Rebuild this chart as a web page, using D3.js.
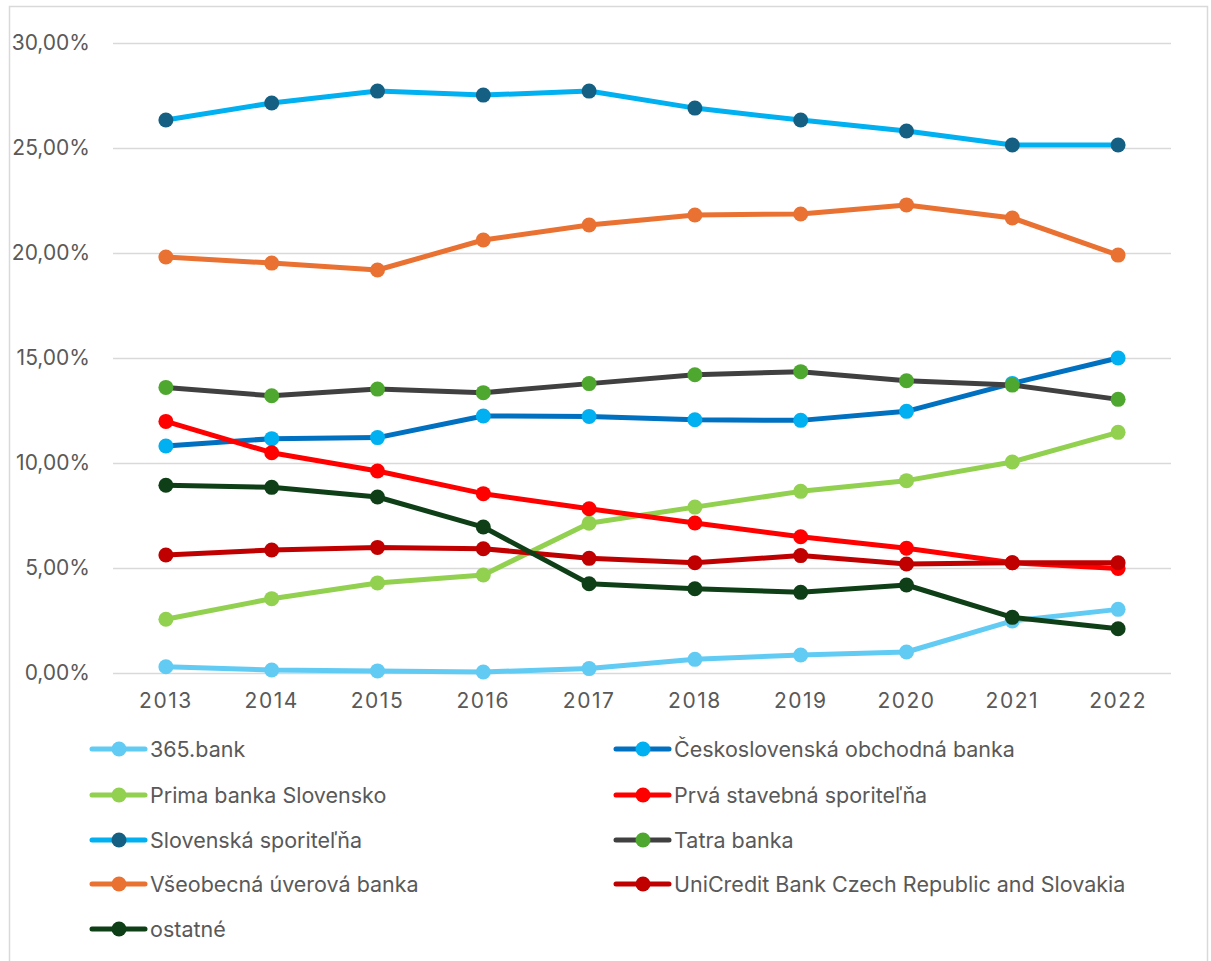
<!DOCTYPE html>
<html><head><meta charset="utf-8">
<script src="https://cdn.jsdelivr.net/npm/d3@7"></script>
<style>body{margin:0;background:#fff}svg{display:block}</style>
</head><body>
<svg id="c" width="1211" height="961"></svg>
<script>
const years = ["2013","2014","2015","2016","2017","2018","2019","2020","2021","2022"];
const yTicks = [0,5,10,15,20,25,30];
const seriesNames = ["365.bank","Československá obchodná banka","Prima banka Slovensko","Prvá stavebná sporiteľňa","Slovenská sporiteľňa","Tatra banka","Všeobecná úverová banka","UniCredit Bank Czech Republic and Slovakia","ostatné"];
const v365 = [0.30,0.14,0.10,0.05,0.21,0.65,0.86,1.00,2.48,3.03];
const vCSOB = [10.81,11.16,11.21,12.24,12.22,12.06,12.03,12.46,13.79,15.00];
const vPrima = [2.56,3.54,4.29,4.67,7.13,7.90,8.65,9.16,10.05,11.46];
const vPSS = [11.98,10.49,9.62,8.54,7.82,7.14,6.49,5.94,5.25,4.98];
const vSLSP = [26.33,27.14,27.71,27.52,27.71,26.90,26.33,25.81,25.14,25.14];
const vTatra = [13.60,13.20,13.52,13.35,13.78,14.20,14.35,13.92,13.71,13.03];
const vVUB = [19.81,19.52,19.19,20.62,21.33,21.81,21.86,22.29,21.67,19.90];
const vUniCredit = [5.62,5.86,5.98,5.92,5.46,5.25,5.59,5.19,5.25,5.25];
const vOstatne = [8.94,8.84,8.38,6.95,4.25,4.01,3.84,4.19,2.65,2.11];
const seriesValues = [v365,vCSOB,vPrima,vPSS,vSLSP,vTatra,vVUB,vUniCredit,vOstatne];
const lineColors = ["#61CBF4","#0070C0","#92D050","#FF0000","#00B0F0","#404040","#E97132","#C00000","#0E3F17"];
const markerColors = ["#61CBF4","#00B0F0","#92D050","#FF0000","#156082","#4EA72E","#E97132","#C00000","#0E3F17"];

const svg = d3.select("#c");
const font = "Inter, 'Open Sans', sans-serif";
// chart border
svg.append("rect").attr("x",9.5).attr("y",6.5).attr("width",1198).attr("height",970)
  .attr("fill","none").attr("stroke","#d9d9d9").attr("stroke-width",1.5);

const x = d3.scaleBand().domain(years).range([113,1171]);
const y = d3.scaleLinear().domain([0,30]).range([673,43]);
const cx = d => x(d) + x.bandwidth()/2;

// gridlines
const yAxis = d3.axisLeft(y).tickValues(yTicks).tickSize(-(1171-113)).tickPadding(23)
  .tickFormat(d => d3.format(".2f")(d).replace(".",",") + "%");
const gy = svg.append("g").attr("transform","translate(113,0)").call(yAxis);
gy.select(".domain").remove();
gy.selectAll(".tick line").attr("stroke","#d9d9d9").attr("stroke-width",1.5);
gy.selectAll(".tick text").attr("fill","#595959").attr("font-size",21).attr("font-family",font);

const xAxis = d3.axisBottom(x).tickSize(0).tickPadding(20);
const gx = svg.append("g").attr("transform","translate(0,673)").call(xAxis);
gx.select(".domain").remove();
gx.selectAll(".tick text").attr("fill","#595959").attr("font-size",21).attr("font-family",font)
  .attr("letter-spacing","1.5px");

const line = d3.line().x((d,i)=>cx(years[i])).y(d=>y(d));
seriesValues.forEach((vals,si)=>{
  const g = svg.append("g");
  g.append("path").attr("d",line(vals)).attr("fill","none").attr("stroke",lineColors[si])
    .attr("stroke-width",5).attr("stroke-linejoin","round").attr("stroke-linecap","round");
  g.selectAll("circle").data(vals).join("circle").attr("cx",(d,i)=>cx(years[i])).attr("cy",d=>y(d))
    .attr("r",7.5).attr("fill",markerColors[si]);
});

// legend
const legX = [90, 614];
const legY = [749, 795, 840, 884, 929];
seriesNames.forEach((name,i)=>{
  const col = i%2, row = Math.floor(i/2);
  const lx = legX[col], ly = legY[row];
  const g = svg.append("g").attr("transform",`translate(${lx},${ly})`);
  g.append("line").attr("x1",2).attr("x2",55).attr("y1",0).attr("y2",0).attr("stroke",lineColors[i])
    .attr("stroke-width",5).attr("stroke-linecap","round");
  g.append("circle").attr("cx",29).attr("cy",0).attr("r",7.5).attr("fill",markerColors[i]);
  g.append("text").attr("x",60).attr("y",0).attr("dy","0.35em").attr("fill","#595959")
    .attr("font-size",21.5).attr("font-family",font).text(name);
});
</script>
</body></html>
